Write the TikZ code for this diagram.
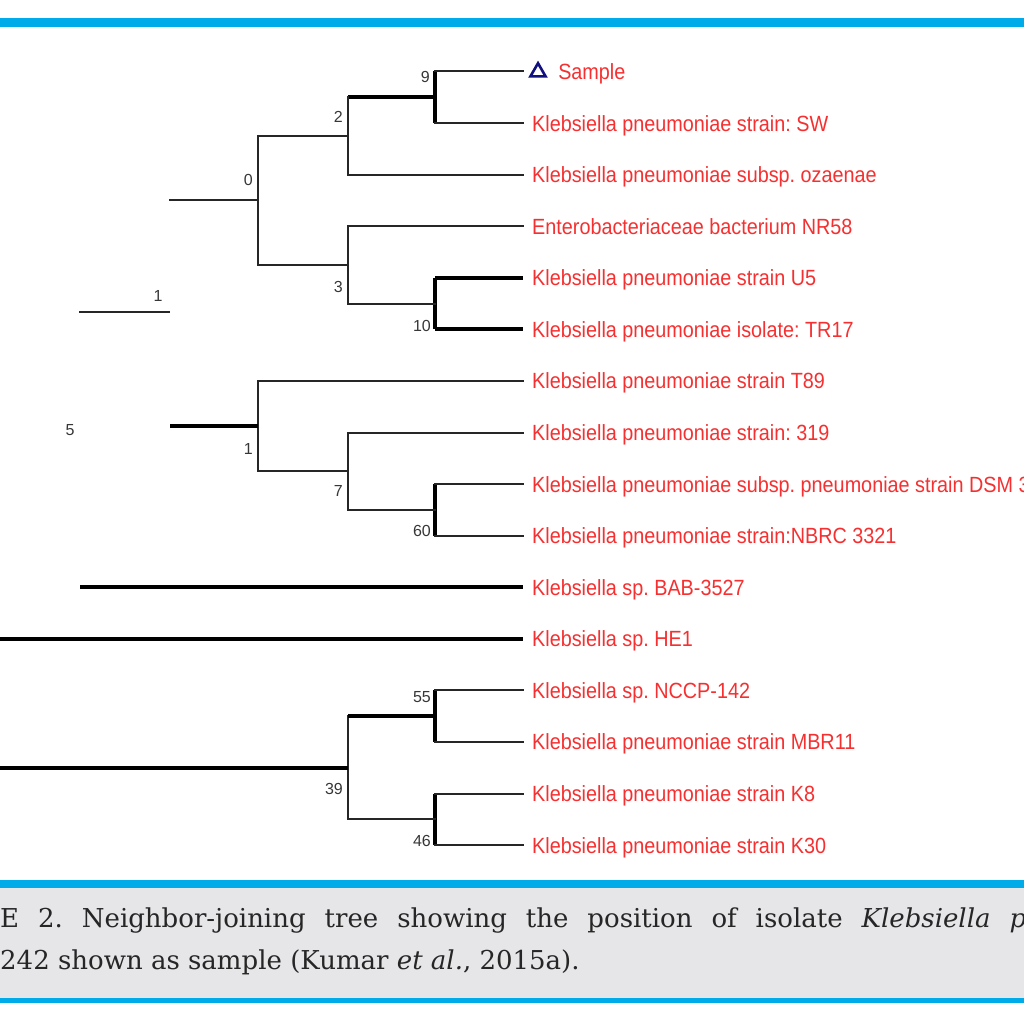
\documentclass[tikz,border=0pt]{standalone}
\usepackage{fontspec}
\setmainfont{DejaVu Serif}
\setsansfont{Liberation Sans}
\newfontfamily\taxonfont[FakeStretch=0.9]{Liberation Sans}
\usetikzlibrary{positioning,shapes.geometric}

\definecolor{journalblue}{RGB}{0,171,234}
\definecolor{captiongray}{RGB}{230,230,232}
\definecolor{taxonred}{RGB}{246,48,48}
\definecolor{samplenavy}{RGB}{16,16,128}
\definecolor{bootgray}{RGB}{55,55,55}

\begin{document}
\frenchspacing
\begin{tikzpicture}[x=1pt,y=1pt,yscale=-1,
  branch/.style={draw=black!85,line width=2pt,line cap=rect},
  strong branch/.style={draw=black,line width=4pt},
  taxon/.style={anchor=west,inner sep=0pt,text=taxonred,text height=16pt,text depth=0pt,font=\taxonfont\fontsize{22}{24}\selectfont},
  boot/.style={anchor=east,inner sep=0pt,text=bootgray,text height=11.5pt,text depth=0pt,font=\sffamily\fontsize{16}{18}\selectfont},
  captionline/.style={anchor=base west,inner sep=0pt,text=black!85,font=\fontsize{26}{30}\selectfont},
  sample mark/.style={regular polygon,regular polygon sides=3,draw=samplenavy,line width=2.6pt,minimum size=17.5pt,inner sep=0pt}]
\useasboundingbox (0,0) rectangle (1024,1024);
\fill[white] (0,0) rectangle (1024,1024);

%Bars and caption box
\fill[journalblue] (0,18) rectangle (1024,27);
\fill[captiongray] (0,888) rectangle (1024,998);
\fill[journalblue] (0,880) rectangle (1024,888);
\fill[journalblue] (0,998) rectangle (1024,1003);

%Leaf tips
\coordinate (l1) at (523,71.5);
\coordinate (l2) at (523,123.1);
\coordinate (l3) at (523,174.6);
\coordinate (l4) at (523,226.2);
\coordinate (l5) at (523,277.8);
\coordinate (l6) at (523,329.4);
\coordinate (l7) at (523,380.9);
\coordinate (l8) at (523,432.5);
\coordinate (l9) at (523,484.1);
\coordinate (l10) at (523,535.6);
\coordinate (l11) at (523,587.2);
\coordinate (l12) at (523,638.8);
\coordinate (l13) at (523,690.3);
\coordinate (l14) at (523,741.9);
\coordinate (l15) at (523,793.5);
\coordinate (l16) at (523,845);

%Inner nodes
\coordinate (n9) at (435,97.3);
\coordinate (n2) at (348,136);
\coordinate (n10) at (435,303.6);
\coordinate (n3) at (348,264.9);
\coordinate (n0) at (258,200.4);
\coordinate (r0) at (170,200.4);
\coordinate (n60) at (435,509.9);
\coordinate (n7) at (348,471.2);
\coordinate (n1) at (258,426);
\coordinate (r1) at (170,426);
\coordinate (r11) at (80,587.2);
\coordinate (r12) at (0,638.8);
\coordinate (n55) at (435,716.1);
\coordinate (n46) at (435,819.3);
\coordinate (n39) at (348,767.7);
\coordinate (r39) at (0,767.7);

%Clade 9
\draw[strong branch] (n9 |- l1) -- (n9 |- l2);
\draw[branch] (n9 |- l1) -- (l1);
\draw[branch] (n9 |- l2) -- (l2);
%Clade 2
\draw[strong branch] (n2 |- n9) -- (n9);
\draw[branch] (n2 |- n9) -- (n2 |- l3);
\draw[branch] (n2 |- l3) -- (l3);
%Clade 10
\draw[strong branch] (n10 |- l5) -- (n10 |- l6);
\draw[strong branch] (n10 |- l5) -- (l5);
\draw[strong branch] (n10 |- l6) -- (l6);
%Clade 3
\draw[branch] (n3 |- l4) -- (n3 |- n10);
\draw[branch] (n3 |- l4) -- (l4);
\draw[branch] (n3 |- n10) -- (n10);
%Clade 0
\draw[branch] (n0 |- n2) -- (n0 |- n3);
\draw[branch] (n0 |- n2) -- (n2);
\draw[branch] (n0 |- n3) -- (n3);
\draw[branch] (r0) -- (n0);

%Clade 60
\draw[strong branch] (n60 |- l9) -- (n60 |- l10);
\draw[branch] (n60 |- l9) -- (l9);
\draw[branch] (n60 |- l10) -- (l10);
%Clade 7
\draw[branch] (n7 |- l8) -- (n7 |- n60);
\draw[branch] (n7 |- l8) -- (l8);
\draw[branch] (n7 |- n60) -- (n60);
%Clade 1
\draw[branch] (n1 |- l7) -- (n1 |- n7);
\draw[branch] (n1 |- l7) -- (l7);
\draw[branch] (n1 |- n7) -- (n7);
\draw[strong branch] (r1) -- (n1);

%Single lineages
\draw[strong branch] (r11) -- (l11);
\draw[strong branch] (r12) -- (l12);

%Clade 55
\draw[strong branch] (n55 |- l13) -- (n55 |- l14);
\draw[branch] (n55 |- l13) -- (l13);
\draw[branch] (n55 |- l14) -- (l14);
%Clade 46
\draw[strong branch] (n46 |- l15) -- (n46 |- l16);
\draw[branch] (n46 |- l15) -- (l15);
\draw[branch] (n46 |- l16) -- (l16);
%Clade 39
\draw[branch] (n39 |- n55) -- (n39 |- n46);
\draw[strong branch] (n39 |- n55) -- (n55);
\draw[branch] (n39 |- n46) -- (n46);
\draw[strong branch] (r39) -- (n39);

%Scale bar
\coordinate (s1) at (80,312);
\coordinate (s2) at (169,312);
\draw[branch] (s1) -- (s2);
\node[boot,anchor=center] (scale) at (158,296) {1};
\node[boot,anchor=center] (b5) at (70,430) {5};

%Bootstrap values
\node[boot] (b9) at (430,77) {9};
\node[boot] (b2) at (343,117) {2};
\node[boot] (b0) at (253,180) {0};
\node[boot] (b3) at (343,287) {3};
\node[boot] (b10) at (431,326) {10};
\node[boot] (b1) at (253,449) {1};
\node[boot] (b7) at (343,491) {7};
\node[boot] (b60) at (431,531) {60};
\node[boot] (b55) at (431,697) {55};
\node[boot] (b39) at (343,789) {39};
\node[boot] (b46) at (431,841) {46};

%Taxa
\node[sample mark] (tri) at (538,72) {};
\node[taxon,right=13.5pt of tri] (t1) {Sample};
\node[taxon,right=9pt of l2] (t2) {Klebsiella pneumoniae strain: SW};
\node[taxon,right=9pt of l3] (t3) {Klebsiella pneumoniae subsp. ozaenae};
\node[taxon,right=9pt of l4] (t4) {Enterobacteriaceae bacterium NR58};
\node[taxon,right=9pt of l5] (t5) {Klebsiella pneumoniae strain U5};
\node[taxon,right=9pt of l6] (t6) {Klebsiella pneumoniae isolate: TR17};
\node[taxon,right=9pt of l7] (t7) {Klebsiella pneumoniae strain T89};
\node[taxon,right=9pt of l8] (t8) {Klebsiella pneumoniae strain: 319};
\node[taxon,right=9pt of l9] (t9) {Klebsiella pneumoniae subsp. pneumoniae strain DSM 3};
\node[taxon,right=9pt of l10] (t10) {Klebsiella pneumoniae strain:NBRC 3321};
\node[taxon,right=9pt of l11] (t11) {Klebsiella sp. BAB-3527};
\node[taxon,right=9pt of l12] (t12) {Klebsiella sp. HE1};
\node[taxon,right=9pt of l13] (t13) {Klebsiella sp. NCCP-142};
\node[taxon,right=9pt of l14] (t14) {Klebsiella pneumoniae strain MBR11};
\node[taxon,right=9pt of l15] (t15) {Klebsiella pneumoniae strain K8};
\node[taxon,right=9pt of l16] (t16) {Klebsiella pneumoniae strain K30};

%Caption
\node[captionline] (cap1) at (0,927) {\makebox[1026pt][s]{E 2. Neighbor-joining tree showing the position of isolate \textit{Klebsiella p}}};
\node[captionline] (cap2) at (0,969) {242 shown as sample (Kumar \textit{et al.}, 2015a).};

\end{tikzpicture}
\end{document}
